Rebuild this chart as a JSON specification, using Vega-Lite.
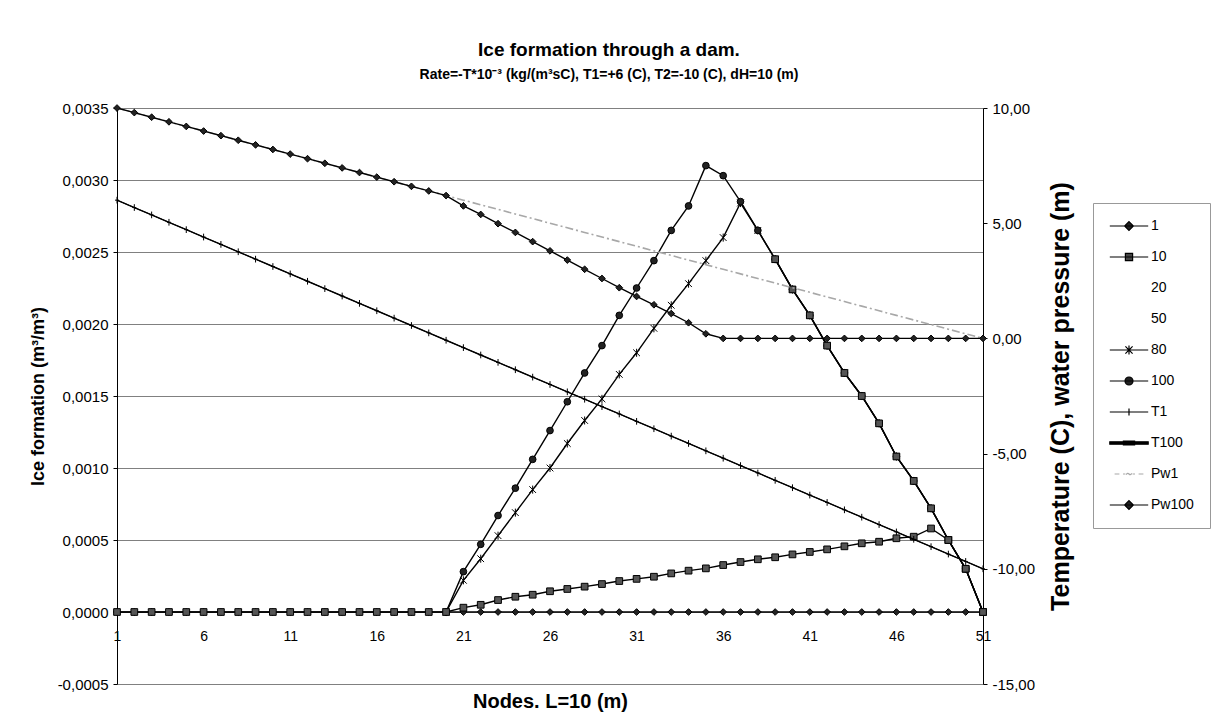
{
  "$schema": "https://vega.github.io/schema/vega-lite/v6.json",
  "width": 866,
  "height": 576,
  "autosize": {"type": "none"},
  "padding": {"left": 117, "top": 108, "right": 231, "bottom": 40},
  "background": "white",
  "title": {
    "text": "Ice formation through a dam.",
    "subtitle": "Rate=-T*10⁻³ (kg/(m³sC), T1=+6 (C), T2=-10 (C), dH=10 (m)",
    "anchor": "middle",
    "dx": 59,
    "offset": 19,
    "font": "Liberation Sans",
    "fontSize": 19,
    "fontWeight": "bold",
    "color": "black",
    "subtitleFont": "Liberation Sans",
    "subtitleFontSize": 14,
    "subtitleFontWeight": "bold",
    "subtitleColor": "black",
    "subtitlePadding": 8
  },
  "data": {
    "values": [
      {"node": 1, "1": 0, "10": 0, "T100": 6.0, "T1": 6.0, "Pw1": 10.0, "Pw100": 10.0},
      {"node": 2, "1": 0, "10": 0, "T100": 5.68, "T1": 5.68, "Pw1": 9.8, "Pw100": 9.8},
      {"node": 3, "1": 0, "10": 0, "T100": 5.36, "T1": 5.36, "Pw1": 9.6, "Pw100": 9.6},
      {"node": 4, "1": 0, "10": 0, "T100": 5.04, "T1": 5.04, "Pw1": 9.4, "Pw100": 9.4},
      {"node": 5, "1": 0, "10": 0, "T100": 4.72, "T1": 4.72, "Pw1": 9.2, "Pw100": 9.2},
      {"node": 6, "1": 0, "10": 0, "T100": 4.4, "T1": 4.4, "Pw1": 9.0, "Pw100": 9.0},
      {"node": 7, "1": 0, "10": 0, "T100": 4.08, "T1": 4.08, "Pw1": 8.8, "Pw100": 8.8},
      {"node": 8, "1": 0, "10": 0, "T100": 3.76, "T1": 3.76, "Pw1": 8.6, "Pw100": 8.6},
      {"node": 9, "1": 0, "10": 0, "T100": 3.44, "T1": 3.44, "Pw1": 8.4, "Pw100": 8.4},
      {"node": 10, "1": 0, "10": 0, "T100": 3.12, "T1": 3.12, "Pw1": 8.2, "Pw100": 8.2},
      {"node": 11, "1": 0, "10": 0, "T100": 2.8, "T1": 2.8, "Pw1": 8.0, "Pw100": 8.0},
      {"node": 12, "1": 0, "10": 0, "T100": 2.48, "T1": 2.48, "Pw1": 7.8, "Pw100": 7.8},
      {"node": 13, "1": 0, "10": 0, "T100": 2.16, "T1": 2.16, "Pw1": 7.6, "Pw100": 7.6},
      {"node": 14, "1": 0, "10": 0, "T100": 1.84, "T1": 1.84, "Pw1": 7.4, "Pw100": 7.4},
      {"node": 15, "1": 0, "10": 0, "T100": 1.52, "T1": 1.52, "Pw1": 7.2, "Pw100": 7.2},
      {"node": 16, "1": 0, "10": 0, "T100": 1.2, "T1": 1.2, "Pw1": 7.0, "Pw100": 7.0},
      {"node": 17, "1": 0, "10": 0, "T100": 0.88, "T1": 0.88, "Pw1": 6.8, "Pw100": 6.8},
      {"node": 18, "1": 0, "10": 0, "T100": 0.56, "T1": 0.56, "Pw1": 6.6, "Pw100": 6.6},
      {"node": 19, "1": 0, "10": 0, "T100": 0.24, "T1": 0.24, "Pw1": 6.4, "Pw100": 6.4},
      {"node": 20, "1": 0, "80": 0, "100": 0, "10": 0, "T100": -0.08, "T1": -0.08, "Pw1": 6.2, "Pw100": 6.2},
      {"node": 21, "1": 0, "80": 0.00022, "100": 0.00028, "10": 0.00003, "T100": -0.4, "T1": -0.4, "Pw1": 6.0, "Pw100": 5.75},
      {"node": 22, "1": 0, "80": 0.00037, "100": 0.00047, "10": 0.00005, "T100": -0.72, "T1": -0.72, "Pw1": 5.8, "Pw100": 5.38},
      {"node": 23, "1": 0, "80": 0.00053, "100": 0.00067, "10": 0.000083, "T100": -1.04, "T1": -1.04, "Pw1": 5.6, "Pw100": 4.98},
      {"node": 24, "1": 0, "80": 0.00069, "100": 0.00086, "10": 0.000106, "T100": -1.36, "T1": -1.36, "Pw1": 5.4, "Pw100": 4.6},
      {"node": 25, "1": 0, "80": 0.00085, "100": 0.00106, "10": 0.00012, "T100": -1.68, "T1": -1.68, "Pw1": 5.2, "Pw100": 4.2},
      {"node": 26, "1": 0, "80": 0.001, "100": 0.00126, "10": 0.000144, "T100": -2.0, "T1": -2.0, "Pw1": 5.0, "Pw100": 3.8},
      {"node": 27, "1": 0, "80": 0.00117, "100": 0.00146, "10": 0.00016, "T100": -2.32, "T1": -2.32, "Pw1": 4.8, "Pw100": 3.4},
      {"node": 28, "1": 0, "80": 0.00133, "100": 0.00166, "10": 0.000176, "T100": -2.64, "T1": -2.64, "Pw1": 4.6, "Pw100": 3.0},
      {"node": 29, "1": 0, "80": 0.00148, "100": 0.00185, "10": 0.000194, "T100": -2.96, "T1": -2.96, "Pw1": 4.4, "Pw100": 2.6},
      {"node": 30, "1": 0, "80": 0.00165, "100": 0.00206, "10": 0.000215, "T100": -3.28, "T1": -3.28, "Pw1": 4.2, "Pw100": 2.2},
      {"node": 31, "1": 0, "80": 0.0018, "100": 0.00225, "10": 0.00023, "T100": -3.6, "T1": -3.6, "Pw1": 4.0, "Pw100": 1.82},
      {"node": 32, "1": 0, "80": 0.00197, "100": 0.00244, "10": 0.000245, "T100": -3.92, "T1": -3.92, "Pw1": 3.8, "Pw100": 1.46},
      {"node": 33, "1": 0, "80": 0.00213, "100": 0.00265, "10": 0.000268, "T100": -4.24, "T1": -4.24, "Pw1": 3.6, "Pw100": 1.08},
      {"node": 34, "1": 0, "80": 0.00228, "100": 0.00282, "10": 0.000287, "T100": -4.56, "T1": -4.56, "Pw1": 3.4, "Pw100": 0.68},
      {"node": 35, "1": 0, "80": 0.00244, "100": 0.0031, "10": 0.000303, "T100": -4.88, "T1": -4.88, "Pw1": 3.2, "Pw100": 0.2},
      {"node": 36, "1": 0, "80": 0.0026, "100": 0.00303, "10": 0.000326, "T100": -5.2, "T1": -5.2, "Pw1": 3.0, "Pw100": 0},
      {"node": 37, "1": 0, "80": 0.00284, "100": 0.00285, "10": 0.000347, "T100": -5.52, "T1": -5.52, "Pw1": 2.8, "Pw100": 0},
      {"node": 38, "1": 0, "80": 0.00265, "100": 0.00265, "10": 0.000366, "T100": -5.84, "T1": -5.84, "Pw1": 2.6, "Pw100": 0},
      {"node": 39, "1": 0, "80": 0.00245, "100": 0.00245, "50": 0.00245, "10": 0.00038, "T100": -6.16, "T1": -6.16, "Pw1": 2.4, "Pw100": 0},
      {"node": 40, "1": 0, "80": 0.00224, "100": 0.00224, "50": 0.00224, "10": 0.0004, "T100": -6.48, "T1": -6.48, "Pw1": 2.2, "Pw100": 0},
      {"node": 41, "1": 0, "80": 0.00206, "100": 0.00206, "50": 0.00206, "10": 0.000417, "T100": -6.8, "T1": -6.8, "Pw1": 2.0, "Pw100": 0},
      {"node": 42, "1": 0, "80": 0.00185, "100": 0.00185, "50": 0.00185, "10": 0.000435, "T100": -7.12, "T1": -7.12, "Pw1": 1.8, "Pw100": 0},
      {"node": 43, "1": 0, "80": 0.00166, "100": 0.00166, "50": 0.00166, "10": 0.000456, "T100": -7.44, "T1": -7.44, "Pw1": 1.6, "Pw100": 0},
      {"node": 44, "1": 0, "80": 0.0015, "100": 0.0015, "50": 0.0015, "10": 0.000477, "T100": -7.76, "T1": -7.76, "Pw1": 1.4, "Pw100": 0},
      {"node": 45, "1": 0, "80": 0.00131, "100": 0.00131, "50": 0.00131, "10": 0.000488, "T100": -8.08, "T1": -8.08, "Pw1": 1.2, "Pw100": 0},
      {"node": 46, "1": 0, "80": 0.00108, "100": 0.00108, "50": 0.00108, "10": 0.000512, "T100": -8.4, "T1": -8.4, "Pw1": 1.0, "Pw100": 0},
      {"node": 47, "1": 0, "80": 0.00091, "100": 0.00091, "50": 0.00091, "10": 0.000523, "T100": -8.72, "T1": -8.72, "Pw1": 0.8, "Pw100": 0},
      {"node": 48, "1": 0, "80": 0.00072, "100": 0.00072, "50": 0.00072, "10": 0.00058, "T100": -9.04, "T1": -9.04, "Pw1": 0.6, "Pw100": 0},
      {"node": 49, "1": 0, "80": 0.0005, "100": 0.0005, "50": 0.0005, "10": 0.0005, "T100": -9.36, "T1": -9.36, "Pw1": 0.4, "Pw100": 0},
      {"node": 50, "1": 0, "80": 0.0003, "100": 0.0003, "50": 0.0003, "10": 0.0003, "T100": -9.68, "T1": -9.68, "Pw1": 0.2, "Pw100": 0},
      {"node": 51, "1": 0, "80": 0, "100": 0, "50": 0, "10": 0, "T100": -10.0, "T1": -10.0, "Pw1": 0.0, "Pw100": 0}
    ]
  },
  "transform": [
    {"fold": ["1", "80", "100", "50", "10", "T100", "T1", "Pw1", "Pw100"], "as": ["series", "value"]},
    {"filter": "isValid(datum.value)"}
  ],
  "encoding": {
    "x": {
      "field": "node",
      "type": "quantitative",
      "scale": {"domain": [1, 51], "nice": false, "zero": false},
      "axis": {
        "values": [1, 6, 11, 16, 21, 26, 31, 36, 41, 46, 51],
        "offset": -72,
        "domain": false,
        "ticks": false,
        "grid": false,
        "labelPadding": 17,
        "labelFontSize": 14,
        "labelFlush": false,
        "labelOverlap": false,
        "title": "Nodes. L=10 (m)",
        "titleFontSize": 20,
        "titlePadding": 48
      }
    }
  },
  "layer": [
    {
      "transform": [{"filter": {"field": "series", "oneOf": ["1", "80", "100", "50", "10"]}}],
      "encoding": {
        "y": {
          "field": "value",
          "type": "quantitative",
          "scale": {"domain": [-0.0005, 0.0035], "nice": false, "zero": false},
          "axis": {
            "orient": "left",
            "title": "Ice formation (m³/m³)",
            "titleFontSize": 18,
            "values": [-0.0005, 0, 0.0005, 0.001, 0.0015, 0.002, 0.0025, 0.003, 0.0035],
            "labelExpr": "replace(replace(format(datum.value, '.4f'), '.', ','), '\u2212', '-')",
            "grid": true,
            "tickSize": 4,
            "labelPadding": 5,
            "titlePadding": 10
          }
        }
      },
      "layer": [
        {
          "mark": {"type": "line", "color": "black", "strokeWidth": 1.4},
          "encoding": {"detail": {"field": "series"}}
        },
        {
          "mark": {"type": "point", "filled": true, "opacity": 1, "stroke": "black", "strokeWidth": 1, "size": 45},
          "encoding": {
            "shape": {
              "field": "series",
              "type": "nominal",
              "scale": {
                "domain": ["1", "80", "100", "50", "10"],
                "range": ["diamond", "M-1,-1L1,1M-1,1L1,-1M0,-1.2V1.2", "circle", "square", "square"]
              },
              "legend": null
            },
            "color": {
              "field": "series",
              "type": "nominal",
              "scale": {
                "domain": ["1", "80", "100", "50", "10"],
                "range": ["#222222", "#000000", "#222222", "#555555", "#555555"]
              },
              "legend": null
            }
          }
        }
      ]
    },
    {
      "transform": [{"filter": {"field": "series", "oneOf": ["T100", "T1", "Pw1", "Pw100"]}}],
      "encoding": {
        "y": {
          "field": "value",
          "type": "quantitative",
          "scale": {"domain": [-15, 10], "nice": false, "zero": false},
          "axis": {
            "orient": "right",
            "title": "Temperature (C), water pressure (m)",
            "titleFontSize": 25,
            "values": [-15, -10, -5, 0, 5, 10],
            "labelExpr": "replace(replace(format(datum.value, '.2f'), '.', ','), '\u2212', '-')",
            "grid": false,
            "tickSize": 4,
            "labelPadding": 5,
            "titleAngle": 270,
            "titleBaseline": "top",
            "titlePadding": 14
          }
        }
      },
      "layer": [
        {
          "transform": [{"filter": "datum.series == 'T100'"}],
          "mark": {"type": "line", "color": "black", "strokeWidth": 1.4},
          "encoding": {}
        },
        {
          "transform": [{"filter": "datum.series == 'T1'"}],
          "mark": {"type": "line", "color": "black", "strokeWidth": 1},
          "encoding": {}
        },
        {
          "transform": [{"filter": "datum.series == 'Pw1'"}],
          "mark": {"type": "line", "color": "#a8a8a8", "strokeWidth": 1.6, "strokeDash": [8, 3, 2, 3]},
          "encoding": {}
        },
        {
          "transform": [{"filter": "datum.series == 'Pw100'"}],
          "mark": {"type": "line", "color": "black", "strokeWidth": 1.4},
          "encoding": {}
        },
        {
          "transform": [{"filter": {"field": "series", "oneOf": ["T1", "Pw100"]}}],
          "mark": {"type": "point", "filled": true, "opacity": 1, "stroke": "black", "strokeWidth": 1, "size": 45},
          "encoding": {
            "shape": {
              "field": "series",
              "type": "nominal",
              "scale": {"domain": ["T1", "Pw100"], "range": ["M0,-1V1M-0.6,0H0.6", "diamond"]},
              "legend": null
            },
            "color": {
              "field": "series",
              "type": "nominal",
              "scale": {"domain": ["T1", "Pw100"], "range": ["#000000", "#222222"]},
              "legend": null
            }
          }
        }
      ]
    },
    {
      "transform": [{"filter": "datum.node < 0"}],
      "mark": {"type": "point", "filled": true, "size": 64},
      "encoding": {
        "shape": {
          "field": "series",
          "type": "nominal",
          "scale": {
            "domain": ["1", "10", "20", "50", "80", "100", "T1", "T100", "Pw1", "Pw100"],
            "range": [
              "M-4.8,0H4.8M0,-1.1L1.1,0L0,1.1L-1.1,0Z",
              "M-4.8,0H4.8M-0.9,-0.9H0.9V0.9H-0.9Z",
              "M0,0",
              "M0,0",
              "M-4.8,0H4.8M-0.9,-0.9L0.9,0.9M-0.9,0.9L0.9,-0.9M0,-1.1V1.1",
              "M-4.8,0H4.8M-1,0A1,1 0 1,0 1,0A1,1 0 1,0 -1,0Z",
              "M-4.8,0H4.8M0,-0.9V0.9",
              "M-4.8,-0.3H4.8V0.3H-4.8ZM-1.4,-0.5H1.4V0.5H-1.4Z",
              "M-3.6,0H-2.4M-1.5,0H-0.9M0.9,0H1.5M2.4,0H3.6M-0.7,0.15Q-0.35,-0.4 0,0T0.7,-0.15",
              "M-4.8,0H4.8M0,-1.1L1.1,0L0,1.1L-1.1,0Z"
            ]
          },
          "legend": {"title": null}
        },
        "color": {
          "field": "series",
          "type": "nominal",
          "scale": {
            "domain": ["1", "10", "20", "50", "80", "100", "T1", "T100", "Pw1", "Pw100"],
            "range": ["#222222", "#444444", "transparent", "transparent", "#000000", "#222222", "#000000", "#000000", "transparent", "#222222"]
          },
          "legend": {"title": null}
        },
        "stroke": {
          "field": "series",
          "type": "nominal",
          "scale": {
            "domain": ["1", "10", "20", "50", "80", "100", "T1", "T100", "Pw1", "Pw100"],
            "range": ["#000000", "#000000", "transparent", "transparent", "#000000", "#000000", "#000000", "#000000", "#a8a8a8", "#000000"]
          },
          "legend": {"title": null}
        }
      }
    }
  ],
  "resolve": {
    "scale": {"y": "independent", "shape": "independent", "color": "independent", "stroke": "independent"}
  },
  "config": {
    "font": "Liberation Sans",
    "view": {"stroke": null},
    "axis": {
      "labelFont": "Liberation Sans",
      "labelFontSize": 15,
      "labelColor": "black",
      "titleFont": "Liberation Sans",
      "titleFontSize": 18,
      "titleFontWeight": "bold",
      "titleColor": "black",
      "domainColor": "black",
      "domainWidth": 1,
      "tickColor": "black",
      "gridColor": "#808080",
      "gridWidth": 1
    },
    "legend": {
      "orient": "none",
      "legendX": 976,
      "legendY": 95,
      "labelFont": "Liberation Sans",
      "labelFontSize": 14,
      "labelColor": "black",
      "symbolSize": 64,
      "symbolStrokeWidth": 1.2,
      "symbolOpacity": 1,
      "symbolOffset": 13,
      "rowPadding": 17,
      "labelOffset": 15,
      "padding": 16,
      "strokeColor": "#999999",
      "fillColor": "white"
    }
  }
}
